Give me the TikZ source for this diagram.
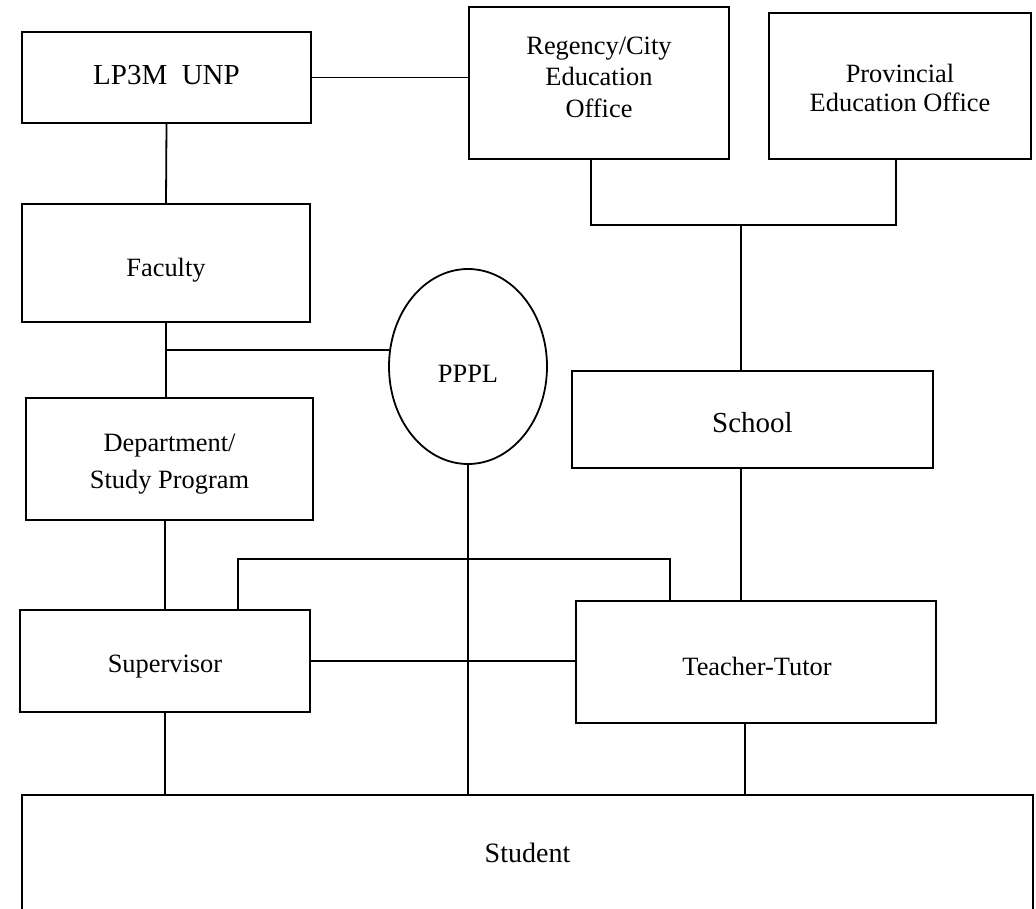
\documentclass[tikz,border=0pt]{standalone}
\usepackage{fontspec}
\setmainfont{Liberation Serif}
\usetikzlibrary{shapes.geometric}
\newcommand\myfs[2]{\fontsize{#1}{#2}\selectfont}
\begin{document}
\begin{tikzpicture}[x=1pt,y=-1pt,
  box/.style={draw, line width=1.8pt, inner sep=0pt},
  txt/.style={inner sep=0pt, align=center, font=\myfs{26.4}{31}},
  conn/.style={line width=1.8pt},
]
\clip (0,0) rectangle (1036,908);
\fill[white] (0,0) rectangle (1036,908);

% boxes
\node[box, minimum width=289pt, minimum height=91pt] (lp3m) at (166.5,77.5) {};
\node[txt, font=\myfs{29}{33}] (lp3mtxt) at (166.5,75.5) {LP3M\ \ UNP};

\node[box, minimum width=260pt, minimum height=152pt] (reg) at (599,83) {};
\node[txt, font=\myfs{26.4}{31.5}] (regtxt) at (599,77) {Regency/City\\Education\\Office};

\node[box, minimum width=262pt, minimum height=146pt] (prov) at (900,86) {};
\node[txt, font=\myfs{26.4}{29}] (provtxt) at (900,88) {Provincial\\Education Office};

\node[box, minimum width=288pt, minimum height=118pt] (fac) at (166,263) {};
\node[txt] (factxt) at (166,270) {Faculty};

\node[box, ellipse, minimum width=158pt, minimum height=195pt] (pppl) at (468,366.5) {};
\node[txt] (pppltxt) at (468,373.5) {PPPL};

\node[box, minimum width=287pt, minimum height=122pt] (dept) at (169.5,459) {};
\node[txt, font=\myfs{26.4}{37}] (depttxt) at (169.5,464) {Department/\\Study Program};

\node[box, minimum width=361pt, minimum height=97pt] (sch) at (752.5,419.5) {};
\node[txt, font=\myfs{29}{33}] (schtxt) at (752.5,422.5) {School};

\node[box, minimum width=290pt, minimum height=102pt] (sup) at (165,661) {};
\node[txt] (suptxt) at (165,667) {Supervisor};

\node[box, minimum width=360pt, minimum height=122pt] (tt) at (756,662) {};
\node[txt] (tttxt) at (757,666) {Teacher-Tutor};

\node[box, minimum width=1011pt, minimum height=117pt] (stu) at (527.5,853.5) {};
\node[txt, font=\myfs{28}{32}] (stutxt) at (527.5,852.5) {Student};

% connectors
\draw[conn] (lp3m.east) -- (lp3m.east -| reg.west);
\draw[conn] (lp3m.south) -- (fac.north);
\draw[conn] (fac.south) -- (fac.south |- dept.north);
\draw[conn] (pppl.168.8) -- (pppl.168.8 -| fac.south);

\coordinate (jl) at (591,225);
\coordinate (jr) at (896,225);
\coordinate (jm) at (741,225);
\draw[conn] (jl |- reg.south) -- (jl) -- (jr) -- (jr |- prov.south);
\draw[conn] (jm) -- (jm |- sch.north);
\draw[conn] (jm |- sch.south) -- (jm |- tt.north);

\draw[conn] (dept.south -| sup.north) -- (sup.north);

\coordinate (sa) at (238,559);
\coordinate (sb) at (670,559);
\draw[conn] (sa |- sup.north) -- (sa) -- (sb) -- (sb |- tt.north);

\draw[conn] (sup.east) -- (sup.east -| tt.west);

\draw[conn] (pppl.south) -- (pppl.south |- stu.north);
\draw[conn] (sup.south) -- (sup.south |- stu.north);
\coordinate (tb) at (745,760);
\draw[conn] (tb |- tt.south) -- (tb |- stu.north);
\end{tikzpicture}
\end{document}
